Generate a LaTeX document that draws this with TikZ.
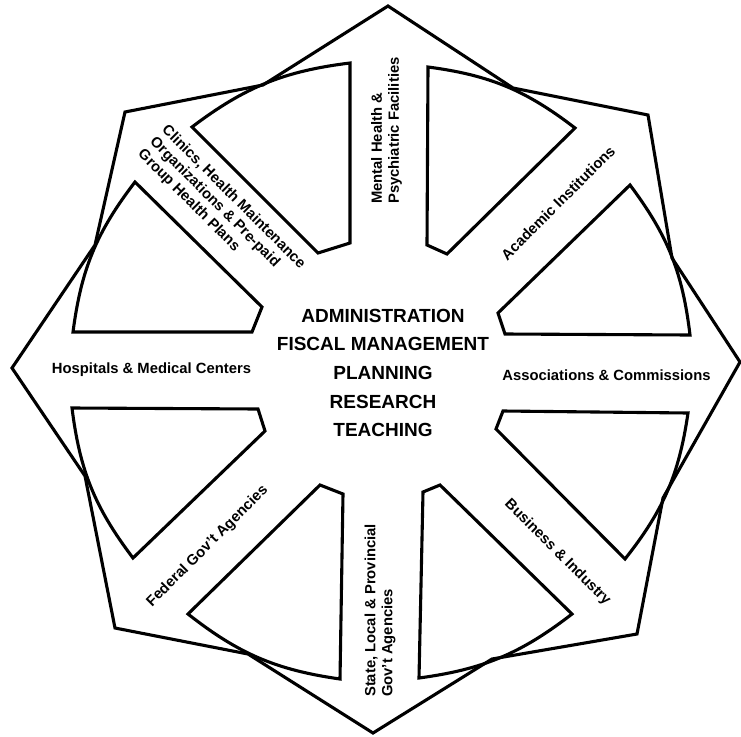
\documentclass[tikz,border=0pt]{standalone}
\usepackage{fontspec}
\setmainfont{Liberation Sans}
\begin{document}
\begin{tikzpicture}[x=1pt,y=-1pt,
  outline/.style={line width=3.1pt, line join=miter},
  spoke/.style={font=\fontsize{14.8}{17}\selectfont\bfseries, inner sep=0pt, align=left},
  core/.style={font=\fontsize{19}{28.7}\selectfont\bfseries, inner sep=0pt, align=center}]
\path[use as bounding box, fill=white] (0,0) rectangle (741,736);

% eight-pointed star: outer points and the notches between them
\coordinate (pT)  at (388,6);
\coordinate (nTR) at (513,88);
\coordinate (pUR) at (648,115);
\coordinate (nUR) at (672,258);
\coordinate (pR)  at (740,362);
\coordinate (nRL) at (663,498);
\coordinate (pLR) at (637,634);
\coordinate (nLB) at (492,659);
\coordinate (pB)  at (373,733);
\coordinate (nBL) at (248,654);
\coordinate (pLL) at (115,628);
\coordinate (nLL) at (85,476);
\coordinate (pL)  at (12,368);
\coordinate (nLU) at (95,245);
\coordinate (pUL) at (125,112);
\coordinate (nUT) at (263,85);
\draw[outline] (pT) -- (nTR) -- (pUR) -- (nUR) -- (pR) -- (nRL) -- (pLR) -- (nLB)
  -- (pB) -- (nBL) -- (pLL) -- (nLL) -- (pL) -- (nLU) -- (pUL) -- (nUT) -- cycle;

% the eight ring sectors between the spokes
\draw[outline] (350,63)  to[bend right=15] (192,127) -- (318,253) -- (350,243) -- cycle;
\draw[outline] (575,128) to[bend right=15] (428,67)  -- (427,245) -- (447,254) -- cycle;
\draw[outline] (690,335) to[bend right=15] (630,185) -- (498,313) -- (505,334) -- cycle;
\draw[outline] (625,559) to[bend right=15] (688,413) -- (503,411) -- (496,429) -- cycle;
\draw[outline] (419,678) to[bend right=15] (572,614) -- (440,485) -- (423,492) -- cycle;
\draw[outline] (188,614) to[bend right=15] (340,679) -- (343,494) -- (320,485) -- cycle;
\draw[outline] (72,408)  to[bend right=15] (133,558) -- (265,431) -- (258,409) -- cycle;
\draw[outline] (135,182) to[bend right=15] (73,332)  -- (252,332) -- (262,307) -- cycle;

% centre
\node[core] (core) at (383,373)
  {ADMINISTRATION\\FISCAL MANAGEMENT\\PLANNING\\RESEARCH\\TEACHING};

% spoke labels
\node[spoke, rotate=90, anchor=west] (mental) at (386.5,204)
  {Mental Health \&\\Psychiatric Facilities};
\node[spoke, rotate=45] (academic) at (558,203) {Academic Institutions};
\node[spoke] (assoc) at (606.5,375) {Associations \& Commissions};
\node[spoke, rotate=-45] (business) at (557.5,552.5) {Business \& Industry};
\node[spoke, rotate=90, anchor=west] (state) at (380,697)
  {State, Local \& Provincial\\Gov't Agencies};
\node[spoke, rotate=45] (federal) at (207.5,546.5) {Federal Gov't Agencies};
\node[spoke] (hospitals) at (151.5,370) {Hospitals \& Medical Centers};
\node[spoke, rotate=-45, anchor=west] (clinics) at (152,140)
  {Clinics, Health Maintenance\\Organizations \& Pre-paid\\Group Health Plans};
\end{tikzpicture}
\end{document}
